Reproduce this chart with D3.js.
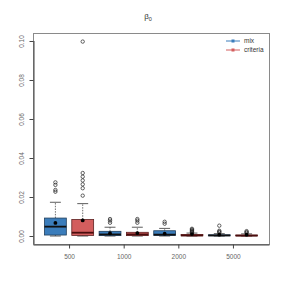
<!DOCTYPE html>
<html>
<head>
<meta charset="utf-8">
<script src="https://cdn.jsdelivr.net/npm/d3@7"></script>
<style>
  body { margin: 0; background: #fff; }
  text { font-family: "Liberation Sans", Arial, sans-serif; }
</style>
</head>
<body>
<script>
"use strict";

// Width and height
let w = 286;
let h = 286;

// sample sizes along the x axis
let sizes = ["500", "1000", "2000", "5000"];
let methods = ["mix", "criteria"];
let colors = ["#3b7dbb", "#d35e5e"];
let borders = ["#223f5c", "#5e2222"];

// box stats: [lower whisker, q1, median, q3, upper whisker]
let mixBoxes = [
    [0.0000, 0.0005, 0.0048, 0.0092, 0.0173],
    [0.0000, 0.0002, 0.0008, 0.0024, 0.0045],
    [0.0000, 0.0003, 0.0007, 0.0027, 0.0039],
    [0.0000, 0.0001, 0.0003, 0.0006, 0.0012]
];
let criteriaBoxes = [
    [0.0000, 0.0003, 0.0017, 0.0085, 0.0166],
    [0.0000, 0.0002, 0.0008, 0.0019, 0.0045],
    [0.0000, 0.0001, 0.0003, 0.0008, 0.0015],
    [0.0000, 0.0001, 0.0002, 0.0005, 0.0011]
];
let mixMeans = [0.0067, 0.0014, 0.0012, 0.0007];
let criteriaMeans = [0.0080, 0.0015, 0.0010, 0.0007];
let mixOutliers = [
    [0.0227, 0.0236, 0.0262, 0.0275],
    [0.0068, 0.0079, 0.0087],
    [0.0063, 0.0073],
    [0.0018, 0.0022, 0.0027, 0.0053]
];
let criteriaOutliers = [
    [0.0207, 0.0245, 0.0265, 0.0285, 0.0304, 0.0323, 0.0997],
    [0.0068, 0.0079, 0.0087],
    [0.0017, 0.0021, 0.0025, 0.0029, 0.0033, 0.0037],
    [0.0016, 0.0020, 0.0025]
];
let yTicks = [0, 0.02, 0.04, 0.06, 0.08, 0.10];

let groups = [];
sizes.forEach((s, i) => {
    groups.push({size: s, m: 0, box: mixBoxes[i], mean: mixMeans[i], out: mixOutliers[i]});
    groups.push({size: s, m: 1, box: criteriaBoxes[i], mean: criteriaMeans[i], out: criteriaOutliers[i]});
});

let margin = {top: 33, right: 17, bottom: 42, left: 33};

let svg = d3.select("body").append("svg")
    .attr("width", w)
    .attr("height", h);

// R style: positions 1..8 with xlim 0.5..8.5 plus 4% padding
let x = d3.scaleLinear()
    .domain([0.5 - 0.32, groups.length + 0.5 + 0.32])
    .range([margin.left, w - margin.right]);
let y = d3.scaleLinear()
    .domain([-0.0041, 0.1041])
    .range([h - margin.bottom, margin.top]);

let bw = x(0.8) - x(0);

// frame
svg.append("rect")
    .attr("x", margin.left + 0.5)
    .attr("y", margin.top + 0.5)
    .attr("width", w - margin.left - margin.right)
    .attr("height", h - margin.top - margin.bottom)
    .attr("fill", "none")
    .attr("stroke", "#8a8a8a");

// y axis
let yAxis = svg.append("g")
    .attr("transform", `translate(${margin.left + 0.5},0)`)
    .call(d3.axisLeft(y).tickValues(yTicks).tickFormat(d3.format(".2f")).tickSize(4).tickSizeOuter(0));
yAxis.select(".domain").attr("stroke", "#444");
yAxis.selectAll(".tick line").attr("stroke", "#444");
yAxis.selectAll(".tick text")
    .attr("fill", "#666")
    .attr("font-size", 6.5)
    .attr("transform", "rotate(-90)")
    .attr("text-anchor", "middle")
    .attr("x", 0)
    .attr("y", -10)
    .attr("dy", 0);
yAxis.select(".domain").attr("d", `M0.5,${y(0.10)}V${h - margin.bottom}`);

// x axis, ticks between each pair of boxes
let xAxis = svg.append("g")
    .attr("transform", `translate(0,${h - margin.bottom + 0.5})`)
    .call(d3.axisBottom(x).tickValues(sizes.map((s, i) => 2 * i + 1.5))
        .tickFormat((d, i) => sizes[i]).tickSize(4).tickSizeOuter(0));
xAxis.select(".domain").attr("stroke", "#444");
xAxis.selectAll(".tick line").attr("stroke", "#444");
xAxis.selectAll(".tick text")
    .attr("fill", "#666")
    .attr("font-size", 6.5)
    .attr("dy", "0.71em")
    .attr("y", 10);

// boxes
let g = svg.append("g").selectAll("g")
    .data(groups)
    .enter().append("g");

// whiskers (dashed)
g.append("line")
    .attr("x1", (d, i) => x(i + 1)).attr("x2", (d, i) => x(i + 1))
    .attr("y1", d => y(d.box[3])).attr("y2", d => y(d.box[4]))
    .attr("stroke", "#333").attr("stroke-width", 0.7).attr("stroke-dasharray", "1.5,1.2");
g.append("line")
    .attr("x1", (d, i) => x(i + 1)).attr("x2", (d, i) => x(i + 1))
    .attr("y1", d => y(d.box[0])).attr("y2", d => y(d.box[1]))
    .attr("stroke", "#333").attr("stroke-width", 0.7).attr("stroke-dasharray", "1.5,1.2");
// staples
[0, 4].forEach(k => {
    g.append("line")
        .attr("x1", (d, i) => x(i + 1) - bw / 4).attr("x2", (d, i) => x(i + 1) + bw / 4)
        .attr("y1", d => y(d.box[k])).attr("y2", d => y(d.box[k]))
        .attr("stroke", "#333").attr("stroke-width", 0.8);
});

g.append("rect")
    .attr("x", (d, i) => x(i + 1) - bw / 2)
    .attr("y", d => y(d.box[3]))
    .attr("width", bw)
    .attr("height", d => Math.max(y(d.box[1]) - y(d.box[3]), 0.5))
    .attr("fill", d => colors[d.m])
    .attr("stroke", d => borders[d.m])
    .attr("stroke-width", 0.8);

g.append("line")
    .attr("x1", (d, i) => x(i + 1) - bw / 2).attr("x2", (d, i) => x(i + 1) + bw / 2)
    .attr("y1", d => y(d.box[2])).attr("y2", d => y(d.box[2]))
    .attr("stroke", d => d.m ? "#4a0d0d" : "#111").attr("stroke-width", 1.8);

// outliers
g.selectAll("circle.out")
    .data((d, i) => d.out.map(v => ({v: v, i: i})))
    .enter().append("circle")
    .attr("class", "out")
    .attr("cx", d => x(d.i + 1))
    .attr("cy", d => y(d.v))
    .attr("r", 1.7)
    .attr("fill", "none")
    .attr("stroke", "#222")
    .attr("stroke-width", 0.7);

// mean
g.append("circle")
    .attr("cx", (d, i) => x(i + 1))
    .attr("cy", d => y(d.mean))
    .attr("r", 1.9)
    .attr("fill", "#000");

// title
let title = svg.append("text")
    .attr("x", 148)
    .attr("y", 19)
    .attr("text-anchor", "middle")
    .attr("font-size", 8)
    .attr("fill", "#333");
title.append("tspan").text("β");
title.append("tspan").attr("font-size", 5.5).attr("dy", 2).text("0");

// legend
let leg = svg.append("g").selectAll("g")
    .data(methods)
    .enter().append("g")
    .attr("transform", (d, i) => `translate(226,${41 + i * 9})`);
leg.append("line")
    .attr("x1", 0).attr("x2", 14)
    .attr("stroke", (d, i) => colors[i]).attr("stroke-width", 1);
leg.append("rect")
    .attr("x", 5.5).attr("y", -1.5).attr("width", 3).attr("height", 3)
    .attr("fill", (d, i) => colors[i]);
leg.append("text")
    .attr("x", 18).attr("y", 0).attr("dy", "0.35em")
    .attr("font-size", 6.5).attr("fill", "#333")
    .text(d => d);
</script>
</body>
</html>
